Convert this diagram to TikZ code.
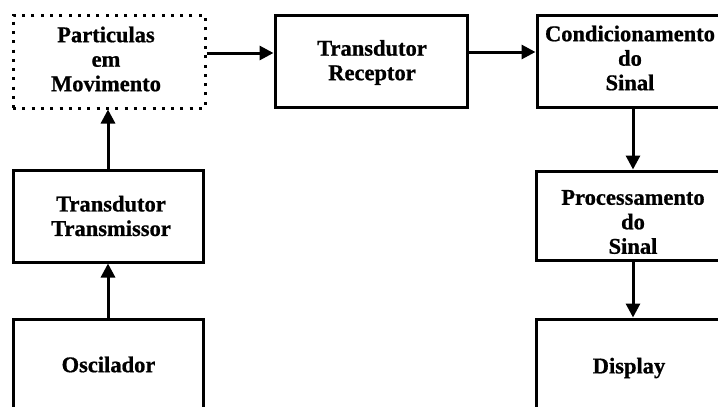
\documentclass[tikz,border=0pt]{standalone}
\usepackage{fontspec}
\setmainfont{Liberation Serif}
\newfontfamily\labelfont{Liberation Serif}[BoldFeatures={FakeBold=0.8}]
\usetikzlibrary{arrows.meta}

\begin{document}
\begin{tikzpicture}[x=1pt,y=-1pt,
  blockbox/.style={draw, line width=3pt, rectangle, inner sep=0pt},
  dotbox/.style={draw, line width=3pt, dash pattern=on 3pt off 6.3pt, rectangle, inner sep=0pt},
  txt/.style={align=center, inner sep=0pt, font=\labelfont\fontsize{22.5}{24.5}\selectfont\bfseries},
  flow/.style={line width=3pt, -{Triangle[length=14pt 0 0,width=14pt 0 0]}}
]
% page area; boxes at the bottom and right run past it
\clip (0,0) rectangle (718,407);
\fill[white] (0,0) rectangle (718,407);

% boxes
\node[dotbox, minimum width=192pt, minimum height=93pt] (part) at (109,61.5) {};
\node[blockbox, minimum width=192pt, minimum height=92pt] (rec) at (371,61) {};
\node[blockbox, minimum width=198pt, minimum height=92pt] (cond) at (636,61) {};
\node[blockbox, minimum width=199pt, minimum height=89pt] (proc) at (635.5,215.5) {};
\node[blockbox, minimum width=199pt, minimum height=96pt] (disp) at (635.5,367) {};
\node[blockbox, minimum width=190pt, minimum height=92pt] (trans) at (108,216) {};
\node[blockbox, minimum width=190pt, minimum height=96pt] (osc) at (108,367) {};

% labels
\node[txt] (tpart) at (106,59) {Particulas\\em\\Movimento};
\node[txt] (trec) at (372,62.5) {Transdutor\\Receptor};
\node[txt] (tcond) at (630,58) {Condicionamento\\do\\Sinal};
\node[txt] (tproc) at (633,222) {Processamento\\do\\Sinal};
\node[txt] (tdisp) at (629,368) {Display};
\node[txt] (ttrans) at (111,216) {Transdutor\\Transmissor};
\node[txt] (tosc) at (108.5,364.5) {Oscilador};

% connectors
\draw[flow] (osc.north) -- (trans.south);
\draw[flow] (trans.north) -- (trans.north |- part.south);
\draw[flow] ([yshift=8.5pt]part.east) -- ([yshift=8.5pt]part.east -| rec.west);
\draw[flow] ([yshift=9pt]rec.east) -- ([yshift=9pt]rec.east -| cond.west);
\draw[flow] ([xshift=-3pt]cond.south) -- ([xshift=-3pt]cond.south |- proc.north);
\draw[flow] ([xshift=-2.5pt]proc.south) -- ([xshift=-2.5pt]proc.south |- disp.north);
\end{tikzpicture}
\end{document}
